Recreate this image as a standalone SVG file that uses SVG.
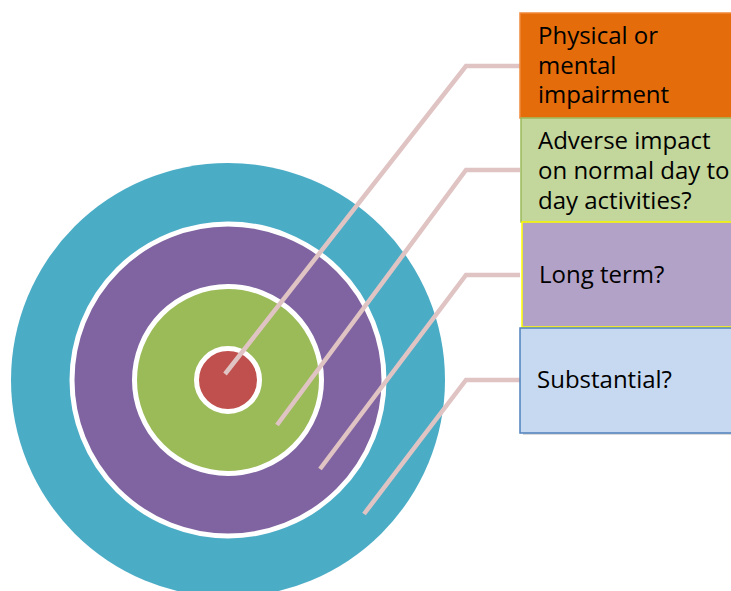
<svg xmlns="http://www.w3.org/2000/svg" width="731" height="591" viewBox="0 0 731 591">
<style>
.ring{stroke:#ffffff;stroke-width:5}
.conn{fill:none;stroke:#dfc4c3;stroke-width:4.5;stroke-linejoin:miter}
.lbl{font-family:"Open Sans","Liberation Sans",sans-serif;font-size:24px;fill:#000000;font-variant-ligatures:none}
</style>
<rect width="731" height="591" fill="#ffffff"/>
<g id="target">
<circle cx="228" cy="380" r="217" fill="#4bacc6"/>
<circle class="ring" cx="228" cy="380" r="156" fill="#8064a2"/>
<circle class="ring" cx="228" cy="380" r="93.5" fill="#9bbb59"/>
<circle class="ring" cx="228" cy="380" r="31.5" fill="#c0504d"/>
</g>
<g id="connectors">
<polyline class="conn" points="225,374 466,66 520,66"/>
<polyline class="conn" points="277,425 466,170 520,170"/>
<polyline class="conn" points="320,469 466,275 520,275"/>
<polyline class="conn" points="364,514 466,380 520,380"/>
</g>
<g id="box1">
<rect x="520" y="13" width="230" height="105" fill="#e46c0a" stroke="#f0883a" stroke-width="1.5"/>
<text class="lbl" x="538" y="44">Physical or</text>
<text class="lbl" x="538" y="74">mental</text>
<text class="lbl" x="538" y="103">impairment</text>
</g>
<g id="box2">
<rect x="521" y="118" width="230" height="104" fill="#c3d69b" stroke="#9bbb59" stroke-width="1.5"/>
<text class="lbl" x="538" y="149">Adverse impact</text>
<text class="lbl" x="538" y="179">on normal day to</text>
<text class="lbl" x="538" y="209">day activities?</text>
</g>
<g id="box3">
<rect x="522" y="222" width="230" height="105" fill="#b3a2c7" stroke="#ffff00" stroke-width="1.5"/>
<text class="lbl" x="539" y="283">Long term?</text>
</g>
<g id="box4">
<rect x="523" y="330" width="230" height="105" fill="#bfbfbf" opacity="0.6"/>
<rect x="520" y="328" width="230" height="105" fill="#c6d9f1" stroke="#4f81bd" stroke-width="1.5"/>
<text class="lbl" x="537" y="388">Substantial?</text>
</g>
</svg>
